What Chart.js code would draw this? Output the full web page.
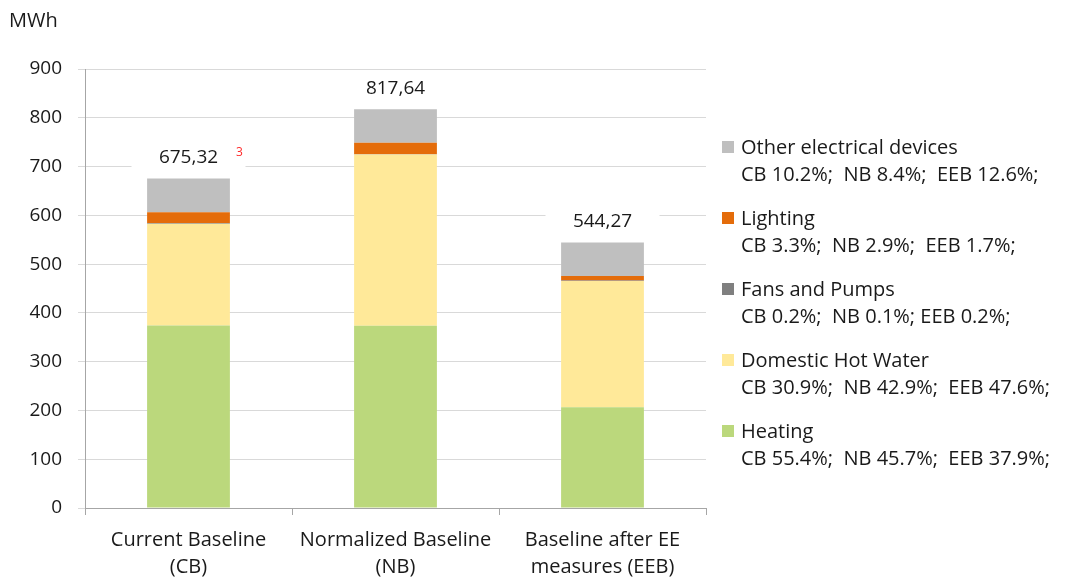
<!DOCTYPE html>
<html>
<head>
<meta charset="utf-8">
<script src="https://cdn.jsdelivr.net/npm/chart.js@4/dist/chart.umd.min.js"></script>
<style>
    body { margin: 0; background: #fff; font-family: "Open Sans", sans-serif; color: #1a1a1a; }
    #wrap { position: relative; width: 1071px; height: 580px; }
    #unit { position: absolute; left: 9px; top: 6px; font-size: 20px; }
    #legend { position: absolute; left: 722px; top: 133px; font-size: 20px; line-height: 27px; }
    .item { height: 71px; white-space: pre; }
    .item .name { display: flex; align-items: center; }
    .item .sw { width: 12px; height: 12px; margin-right: 7px; }
    .item .pct { padding-left: 19px; }
</style>
</head>
<body>
<div id="wrap">
    <canvas id="chart" width="1071" height="580"></canvas>
    <div id="unit">MWh</div>
    <div id="legend"></div>
</div>
<script>
const categories = [['Current Baseline', '(CB)'], ['Normalized Baseline', '(NB)'], ['Baseline after EE', 'measures (EEB)']];
const heating = [374.1, 373.7, 206.3];
const hotWater = [208.7, 350.8, 259.1];
const fansPumps = [1.4, 0.8, 1.1];
const lighting = [22.3, 23.7, 9.3];
const otherDevices = [68.9, 68.7, 68.6];
const totals = [675.32, 817.64, 544.27];
const totalLabels = ['675,32', '817,64', '544,27'];
const yTicks = [0, 100, 200, 300, 400, 500, 600, 700, 800, 900];

const series = [
    { label: 'Heating', data: heating, color: '#bbd87c', pct: 'CB 55.4%;  NB 45.7%;  EEB 37.9%;' },
    { label: 'Domestic Hot Water', data: hotWater, color: '#ffe999', pct: 'CB 30.9%;  NB 42.9%;  EEB 47.6%;' },
    { label: 'Fans and Pumps', data: fansPumps, color: '#7f7f7f', pct: 'CB 0.2%;  NB 0.1%; EEB 0.2%;' },
    { label: 'Lighting', data: lighting, color: '#e46c0a', pct: 'CB 3.3%;  NB 2.9%;  EEB 1.7%;' },
    { label: 'Other electrical devices', data: otherDevices, color: '#bfbfbf', pct: 'CB 10.2%;  NB 8.4%;  EEB 12.6%;' }
];

// legend, top item = last series
const legendEl = document.getElementById('legend');
series.slice().reverse().forEach(s => {
    legendEl.innerHTML += `<div class="item"><div class="name"><span class="sw" style="background:${s.color}"></span>${s.label}</div><div class="pct">${s.pct}</div></div>`;
});

const totalsPlugin = {
    id: 'totals',
    afterDatasetsDraw(chart) {
        const { ctx, scales } = chart;
        ctx.save();
        ctx.font = '19px "Open Sans"';
        ctx.textAlign = 'center';
        ctx.textBaseline = 'middle';
        totals.forEach((t, i) => {
            const x = scales.x.getPixelForValue(i);
            const y = scales.y.getPixelForValue(t) - 21;
            const w = ctx.measureText(totalLabels[i]).width;
            ctx.fillStyle = '#fff';
            ctx.fillRect(x - 57, y - 11, 114, 22);
            ctx.fillStyle = '#1a1a1a';
            ctx.fillText(totalLabels[i], x, y);
            if (i === 0) {
                // footnote marker
                ctx.font = '12px "Open Sans"';
                ctx.fillStyle = '#ff2a2a';
                ctx.textAlign = 'left';
                ctx.fillText('3', x + w / 2 + 18, y - 5);
                ctx.font = '19px "Open Sans"';
                ctx.textAlign = 'center';
            }
        });
        ctx.restore();
    }
};

new Chart(document.getElementById('chart'), {
    type: 'bar',
    data: {
        labels: categories,
        datasets: series.map(s => ({
            label: s.label,
            data: s.data,
            backgroundColor: s.color,
            borderWidth: 0,
            barPercentage: 0.4,
            categoryPercentage: 1
        }))
    },
    options: {
        responsive: false,
        animation: false,
        layout: { padding: { top: 69, right: 365, left: 0, bottom: 0 } },
        plugins: { legend: { display: false }, tooltip: { enabled: false } },
        scales: {
            x: {
                stacked: true,
                afterFit: s => { s.height = 72; },
                grid: { offset: true, drawOnChartArea: false, tickLength: 7, color: '#a6a6a6' },
                border: { color: '#a6a6a6' },
                ticks: { color: '#1a1a1a', font: { family: 'Open Sans', size: 20, lineHeight: 1.35 }, padding: 12, maxRotation: 0 }
            },
            y: {
                stacked: true,
                min: 0,
                max: 900,
                afterFit: s => { s.width = 85; },
                afterBuildTicks: s => { s.ticks = yTicks.map(v => ({ value: v })); },
                grid: { color: '#d9d9d9', tickLength: 7 },
                border: { color: '#a6a6a6' },
                ticks: { color: '#1a1a1a', font: { family: 'Open Sans', size: 19 }, padding: 16 }
            }
        }
    },
    plugins: [totalsPlugin]
});
</script>
</body>
</html>
